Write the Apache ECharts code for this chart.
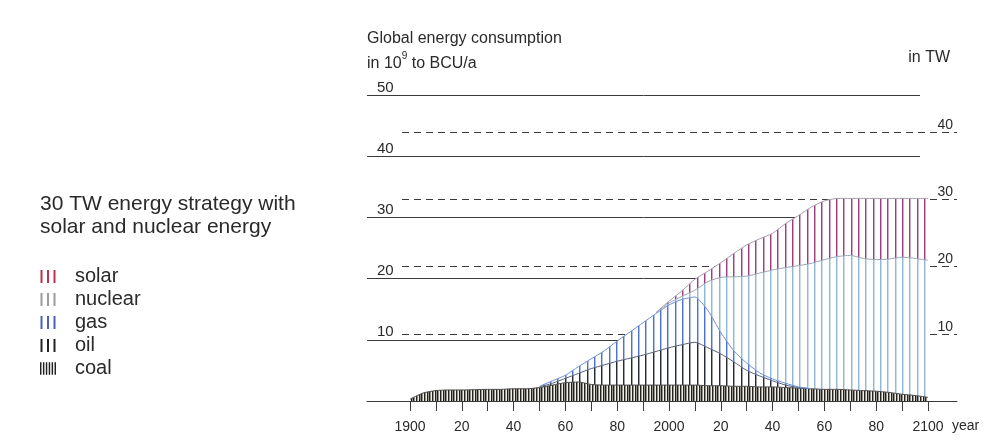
<!DOCTYPE html>
<html><head><meta charset="utf-8">
<script src="https://cdn.jsdelivr.net/npm/echarts@6/dist/echarts.min.js"></script>
<style>html,body{margin:0;padding:0;background:#fff}#c{width:987px;height:442px}</style>
</head><body><div id="c"></div>
<script>
// ---- data (10^9 t BCU per year), every 5 years ----
const years = ['1900','1905','1910','1915','1920','1925','1930','1935','1940','1945',
  '1950','1955','1960','1965','1970','1975','1980','1985','1990','1995',
  '2000','2005','2010','2015','2020','2025','2030','2035','2040','2045',
  '2050','2055','2060','2065','2070','2075','2080','2085','2090','2095','2100'];
const coal = [0.3,1.3,1.7,1.8,1.8,1.85,1.9,1.9,2.0,2.0,
  2.2,2.6,3.0,3.1,2.7,2.6,2.6,2.6,2.6,2.6,
  2.6,2.6,2.6,2.5,2.5,2.4,2.4,2.3,2.3,2.2,
  2.1,2.0,1.9,1.9,1.8,1.7,1.6,1.4,1.1,0.9,0.6];
const oil = [null,null,null,null,null,null,null,null,null,null,
  0.1,0.3,0.7,1.4,2.6,3.3,3.9,4.4,4.9,5.5,
  6.1,6.6,7.0,6.2,5.2,4.0,2.6,1.8,1.0,0.4,
  0.1,0,null,null,null,null,null,null,null,null,null];
const gas = [null,null,null,null,null,null,null,null,null,null,
  0.1,0.4,0.5,1.1,1.6,2.3,3.3,4.3,5.3,6.2,
  7.0,7.4,7.4,6.1,3.5,1.8,1.2,0.5,0.3,0.3,
  0.1,0,null,null,null,null,null,null,null,null,null];
const nuclear = [null,null,null,null,null,null,null,null,null,null,
  null,null,null,null,null,null,null,null,null,0.1,
  0.3,0.5,1.1,4.7,9.0,12.1,14.2,16.3,17.8,18.9,
  19.8,20.5,21.2,21.7,22.0,21.6,21.5,21.8,22.4,22.4,22.4];
const solar = [null,null,null,null,null,null,null,null,null,null,
  null,null,null,null,null,null,null,null,null,0.1,
  0.3,0.9,1.8,1.7,2.4,3.8,5.1,5.6,6.0,7.2,
  8.2,9.2,9.6,9.5,9.3,9.8,10.0,9.9,9.6,9.8,10.1];
const bcuTicks = [10, 20, 30, 40, 50];
const twTicks = [10, 20, 30, 40];
const legendNames = ['solar', 'nuclear', 'gas', 'oil', 'coal'];

// ---- hatch patterns ----
function hatch(color, period, stripes, bg) {
  const c = document.createElement('canvas');
  c.width = period; c.height = 8;
  const g = c.getContext('2d');
  g.fillStyle = bg || '#ffffff'; g.fillRect(0, 0, period, 8);
  g.fillStyle = color;
  stripes.forEach(x => {
    g.globalAlpha = 1; g.fillRect(x, 0, 1, 8);
    g.globalAlpha = 0.45; g.fillRect(x + 1, 0, 1, 8);
  });
  g.globalAlpha = 1;
  return { image: c, repeat: 'repeat' };
}
const I3 = 'path://M0,0h2v13h-2zM6.5,0h2v13h-2zM13,0h2v13h-2z';
const I6 = 'path://M0,0h1.5v13h-1.5zM3,0h1.5v13h-1.5zM6,0h1.5v13h-1.5zM9,0h1.5v13h-1.5zM12,0h1.5v13h-1.5zM15,0h1.5v13h-1.5z';

const FONT = 'Liberation Sans';
const TXT = '#2a2a2a';
const GRID_LINE = '#3a3a3a';

function layer(name, data, legendColor, lineColor, pattern) {
  return {
    name, type: 'line', stack: 'energy', data, smooth: 0.2,
    symbol: 'none', xAxisIndex: 0, yAxisIndex: 0, z: 2,
    itemStyle: { color: legendColor },
    lineStyle: { color: lineColor, width: 1 },
    areaStyle: { color: pattern, opacity: 1 },
    emphasis: { disabled: true }
  };
}

const chart = echarts.init(document.getElementById('c'), null, { renderer: 'canvas' });
chart.setOption({
  animation: false,
  backgroundColor: '#ffffff',
  textStyle: { fontFamily: FONT },
  title: [
    { text: '30 TW energy strategy with\nsolar and nuclear energy', left: 40, top: 193, padding: 0,
      textStyle: { fontSize: 21, fontWeight: 'normal', color: TXT, lineHeight: 23, fontFamily: FONT } },
    { text: 'Global energy consumption\nin 10{sup|9} to BCU/a', left: 367, top: 26, padding: 0,
      textStyle: { fontSize: 16, fontWeight: 'normal', color: TXT, lineHeight: 25, fontFamily: FONT,
        rich: { sup: { fontSize: 10, lineHeight: 10, verticalAlign: 'top', color: TXT, fontFamily: FONT } } } },
    { text: 'in TW', right: 37, top: 50, padding: 0,
      textStyle: { fontSize: 16, fontWeight: 'normal', color: TXT, lineHeight: 16, fontFamily: FONT } }
  ],
  legend: {
    orient: 'vertical', left: 40, top: 265, padding: 0, itemGap: 0,
    itemWidth: 16, itemHeight: 13, selectedMode: false,
    data: legendNames.map(n => ({ name: n, icon: n === 'coal' ? I6 : I3 })),
    textStyle: { fontSize: 20, color: TXT, fontFamily: FONT, lineHeight: 23, padding: [0, 0, 0, 14] },
    itemStyle: { borderWidth: 0 }
  },
  grid: [
    { left: 410, right: 59, top: 95, bottom: 41 },
    { left: 367, right: 67, top: 95, bottom: 41 },
    { left: 402, right: 30, top: 132, bottom: 41 }
  ],
  xAxis: [
    { type: 'category', gridIndex: 0, data: years, boundaryGap: false,
      axisLine: { show: false },
      axisTick: { show: true, interval: 1, length: 10, inside: false, lineStyle: { color: GRID_LINE, width: 1 } },
      axisLabel: { interval: 3, margin: 19, fontSize: 14, color: TXT, fontFamily: FONT,
        formatter: v => { const y = +v; return y % 100 === 0 ? String(y) : String(y % 100); } },
      splitLine: { show: false },
      name: 'year', nameLocation: 'end', nameGap: 24,
      nameTextStyle: { fontSize: 14, color: TXT, fontFamily: FONT, verticalAlign: 'top', padding: [18, 0, 0, 0] } },
    { type: 'value', gridIndex: 1, min: 0, max: 1, z: 5,
      axisLine: { show: true, onZero: false, lineStyle: { color: GRID_LINE, width: 1 } },
      axisTick: { show: false }, axisLabel: { show: false }, splitLine: { show: false } },
    { type: 'value', gridIndex: 2, min: 0, max: 1, z: 5,
      axisLine: { show: true, onZero: false, lineStyle: { color: GRID_LINE, width: 1 } },
      axisTick: { show: false }, axisLabel: { show: false }, splitLine: { show: false } }
  ],
  yAxis: [
    { type: 'value', gridIndex: 0, min: 0, max: 50, show: false },
    { type: 'value', gridIndex: 1, min: 0, max: bcuTicks[bcuTicks.length - 1], interval: 10,
      axisLine: { show: false }, axisTick: { show: false },
      splitLine: { show: true, lineStyle: { color: GRID_LINE, width: 1, type: 'solid' } },
      axisLabel: { inside: true, margin: 10, fontSize: 15, color: TXT, fontFamily: FONT, verticalAlign: 'bottom',
        formatter: v => bcuTicks.indexOf(v) >= 0 ? String(v) : '' } },
    { type: 'value', gridIndex: 2, position: 'right', min: 0, max: twTicks[twTicks.length - 1], interval: 10,
      axisLine: { show: false }, axisTick: { show: false },
      splitLine: { show: true, lineStyle: { color: GRID_LINE, width: 1, type: [7, 5] } },
      axisLabel: { inside: true, margin: 4, fontSize: 14, color: TXT, fontFamily: FONT, verticalAlign: 'bottom',
        formatter: v => twTicks.indexOf(v) >= 0 ? String(v) : '' } }
  ],
  series: [
    layer('coal', coal, '#222222', '#4a4a4a', hatch('#222222', 8, [0, 3, 5], '#f2eee4')),
    layer('oil', oil, '#222222', '#56607a', hatch('#262a34', 22, [0, 7, 15])),
    layer('gas', gas, '#4a5fc0', '#6d8fd6', hatch('#4f73c8', 22, [0, 7, 15])),
    layer('nuclear', nuclear, '#9a9a9a', '#9aa6b6', hatch('#93b8d4', 22, [0, 7, 15])),
    layer('solar', solar, '#c0304f', '#a99aae', hatch('#9c3f7c', 22, [0, 7, 15]))
  ]
});
</script>
</body></html>
